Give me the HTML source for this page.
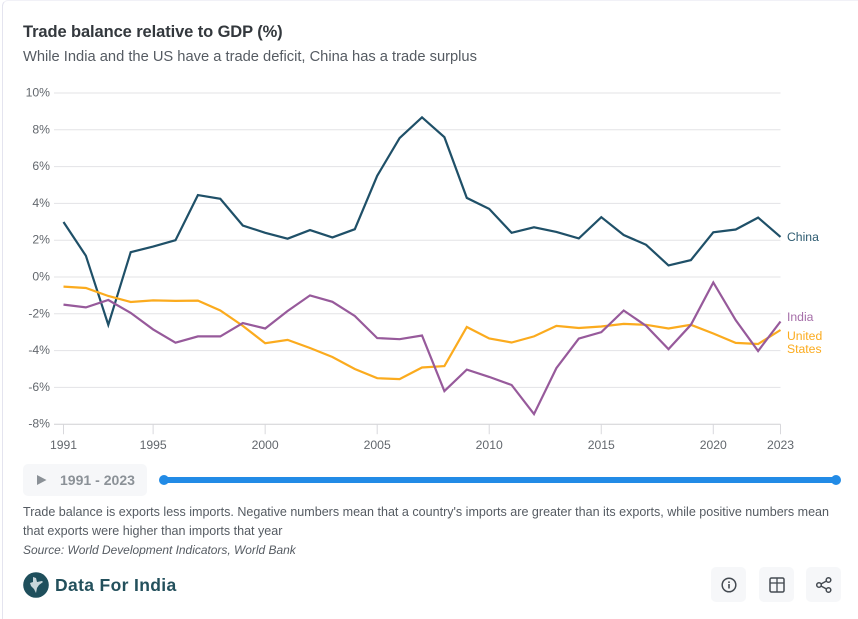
<!DOCTYPE html>
<html lang="en">
<head>
<meta charset="utf-8">
<title>Trade balance relative to GDP</title>
<style>
html{margin:0;padding:0;background:#fff;width:858px;height:619px;overflow:hidden;}
body{margin:0;padding:0;background:#fff;width:858px;height:619px;overflow:hidden;position:relative;font-family:"Liberation Sans",sans-serif;}
#card{position:absolute;left:2px;top:0;width:856px;height:619px;border-left:1px solid #e4e4ef;border-top:1px solid #f1f1f7;border-top-left-radius:6px;box-sizing:border-box;}
.abs{position:absolute;white-space:nowrap;}
#title{left:23px;top:22px;font-size:16.5px;font-weight:bold;color:#33383d;line-height:20px;letter-spacing:-.1px;}
#subtitle{left:23px;top:47px;font-size:14.7px;color:#555b62;line-height:20px;}
#chart{position:absolute;left:0;top:0;}
#play{position:absolute;left:23px;top:464px;width:124px;height:32px;background:#f6f7f9;border-radius:5px;}
#play-label{left:60px;top:471px;font-size:14.05px;font-weight:bold;color:#8b9197;line-height:18px;}
#track{position:absolute;left:164px;top:477px;width:672px;height:6px;background:#228be6;}
.thumb{position:absolute;top:475px;width:10px;height:10px;border-radius:50%;background:#228be6;}
.note{left:23px;font-size:12.55px;color:#555b62;line-height:19px;}
#source{font-style:italic;font-size:11.95px;}
#brand{left:55px;top:574px;font-size:17.5px;font-weight:bold;color:#23505c;line-height:22px;letter-spacing:.35px;}
.btn{position:absolute;top:567px;width:35px;height:35px;background:#f6f7f9;border-radius:5px;cursor:pointer;}
.btn svg{position:absolute;left:8.5px;top:8.5px;}
</style>
</head>
<body>
<div id="card"></div>
<div id="title" class="abs">Trade balance relative to GDP (%)</div>
<div id="subtitle" class="abs">While India and the US have a trade deficit, China has a trade surplus</div>

<svg id="chart" width="858" height="460" xmlns="http://www.w3.org/2000/svg"></svg>

<div id="play">
  <svg width="12" height="12" style="position:absolute;left:13px;top:10px"><polygon points="1,1 10.500,6 1,11" fill="#8b9197"/></svg>
</div>
<div id="play-label" class="abs">1991 - 2023</div>
<div id="track"></div>
<div class="thumb" style="left:159px"></div>
<div class="thumb" style="left:831px"></div>

<div class="abs note" style="top:503px">Trade balance is exports less imports. Negative numbers mean that a country's imports are greater than its exports, while positive numbers mean</div>
<div class="abs note" style="top:522px">that exports were higher than imports that year</div>
<div id="source" class="abs note" style="top:541px">Source: World Development Indicators, World Bank</div>

<svg class="abs" style="left:23px;top:572px" width="26" height="26">
  <circle cx="13" cy="13" r="12.800" fill="#1f4f5c"/>
  <polygon points="10,5 13,6 14,10 19,9 20,10 16,13 14,16 13,21 11,17 8,14 7,11 10,10" fill="#c9d6da"/>
</svg>
<div id="brand" class="abs">Data For India</div>

<div class="btn" style="left:711px">
  <svg width="18" height="18"><circle cx="9" cy="9" r="6.800" fill="none" stroke="#454b52" stroke-width="1.500"/><rect x="8.200" y="8" width="1.600" height="4.500" fill="#454b52"/><rect x="8.200" y="5.400" width="1.600" height="1.600" fill="#454b52"/></svg>
</div>
<div class="btn" style="left:759px">
  <svg width="18" height="18"><rect x="2" y="2" width="14" height="14" rx="1.500" fill="none" stroke="#454b52" stroke-width="1.500"/><line x1="9" y1="2" x2="9" y2="16" stroke="#454b52" stroke-width="1.300"/><line x1="2" y1="7" x2="16" y2="7" stroke="#454b52" stroke-width="1.300"/></svg>
</div>
<div class="btn" style="left:806px">
  <svg width="18" height="18"><g fill="none" stroke="#454b52" stroke-width="1.500"><circle cx="4" cy="9" r="2.300"/><circle cx="13.500" cy="4" r="2.300"/><circle cx="13.500" cy="14" r="2.300"/><line x1="6" y1="8" x2="11.500" y2="5"/><line x1="6" y1="10" x2="11.500" y2="13"/></g></svg>
</div>

<script>
const years = [1991,1992,1993,1994,1995,1996,1997,1998,1999,2000,2001,2002,2003,2004,2005,2006,2007,2008,2009,2010,2011,2012,2013,2014,2015,2016,2017,2018,2019,2020,2021,2022,2023];
const chinaValues = [2.99,1.15,-2.6,1.35,1.65,2.0,4.45,4.25,2.8,2.4,2.08,2.55,2.15,2.6,5.5,7.55,8.68,7.6,4.3,3.7,2.4,2.7,2.45,2.1,3.25,2.28,1.75,0.63,0.92,2.43,2.58,3.23,2.18];
const indiaValues = [-1.5,-1.65,-1.25,-1.95,-2.85,-3.57,-3.23,-3.23,-2.5,-2.8,-1.85,-1.0,-1.35,-2.12,-3.32,-3.38,-3.18,-6.2,-5.03,-5.43,-5.87,-7.45,-4.95,-3.35,-3.0,-1.82,-2.66,-3.92,-2.6,-0.3,-2.35,-4.02,-2.42];
const usValues = [-0.52,-0.6,-1.03,-1.36,-1.27,-1.3,-1.28,-1.82,-2.66,-3.6,-3.42,-3.86,-4.35,-5.0,-5.5,-5.55,-4.92,-4.84,-2.72,-3.34,-3.56,-3.23,-2.66,-2.77,-2.69,-2.55,-2.6,-2.8,-2.6,-3.07,-3.58,-3.64,-2.88];
const yTicks = [10,8,6,4,2,0,-2,-4,-6,-8];
const xTicks = [1991,1995,2000,2005,2010,2015,2020,2023];

const svg = document.getElementById('chart');
const NS = 'http://www.w3.org/2000/svg';
const xScale = y => 63.5 + (y - 1991) * (717 / 32);
const yScale = v => 277 - v * 18.4;

function make(tag, props, parent) {
  const el = document.createElementNS(NS, tag);
  for (const k in props) el.setAttribute(k, props[k]);
  (parent || svg).appendChild(el);
  return el;
}

yTicks.forEach(t => {
  const y = yScale(t);
  const line = make('line', {x1: 54, x2: 780.5, y1: y, y2: y, stroke: t === -8 ? '#d0d0d4' : '#e3e3e6', 'stroke-width': 1});
  
  
  const label = make('text', {x: 50, y: y + 3.5, 'text-anchor': 'end', 'font-size': 12.2, fill: '#62676d', 'font-family': '"Liberation Sans",sans-serif'});
  label.textContent = t + '%';
  
  
});

xTicks.forEach(t => {
  const x = xScale(t);
  const tick = make('line', {x1: x, x2: x, y1: yScale(-8), y2: yScale(-8) + 10, stroke: '#d8d8dc', 'stroke-width': 1});
  
  
  const label = make('text', {x: x, y: 449, 'text-anchor': 'middle', 'font-size': 12.2, fill: '#62676d', 'font-family': '"Liberation Sans",sans-serif'});
  label.textContent = t;
  
  
});

function drawSeries(values, color, name) {
  const pts = values.map((v, i) => xScale(years[i]).toFixed(1) + ',' + yScale(v).toFixed(1)).join(' ');
  const line = make('polyline', {points: pts, fill: 'none', stroke: color, 'stroke-width': 2.2, 'stroke-linejoin': 'miter'});
  
  
}
drawSeries(chinaValues, '#1f5068', 'china-line');
drawSeries(usValues, '#fbab1e', 'united-states-line');
drawSeries(indiaValues, '#975a9b', 'india-line');

function seriesLabel(text, x, y, color, name) {
  const t = make('text', {x: x, y: y, 'font-size': 12.2, fill: color, 'font-family': '"Liberation Sans",sans-serif'});
  t.textContent = text;
  
  
}
seriesLabel('China', 787, 241, '#2c5a70', 'china-label');
seriesLabel('India', 787, 321, '#a66fa9', 'india-label');
seriesLabel('United', 787, 340, '#fbab1e', 'united-label');
seriesLabel('States', 787, 353, '#fbab1e', 'states-label');
</script>
</body>
</html>
